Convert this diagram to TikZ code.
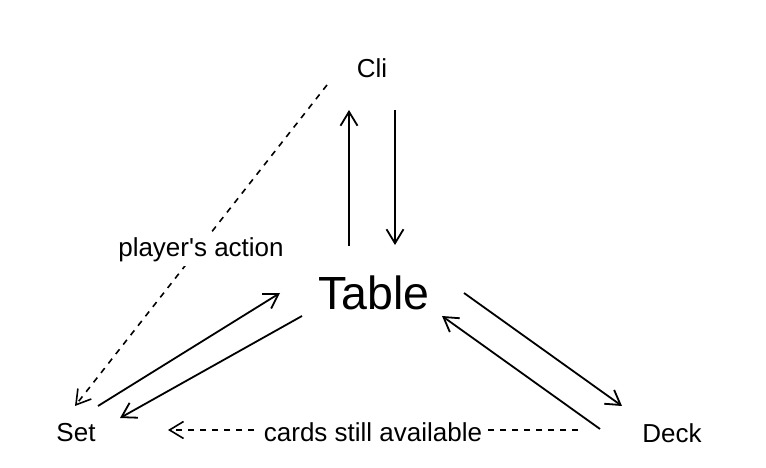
\documentclass[tikz,border=0pt]{standalone}
\usepackage{fontspec}
\setmainfont{Liberation Sans}
\usetikzlibrary{arrows.meta}

\begin{document}
\begin{tikzpicture}[
            x = 1pt, y = 1pt,
            > = {Straight Barb[length=14pt,width=17pt]}, % open arrow head
            line width = 1.8pt % line style
        ]

        \tikzstyle{part}=[
            font = \fontsize{26}{30}\selectfont,
            inner sep = 0pt
        ]
        \tikzstyle{hub}=[
            font = \fontsize{46.5}{54}\selectfont,
            inner sep = 0pt
        ]
        \tikzstyle{note}=[
            fill = white,
            inner sep = 4pt,
            font = \fontsize{26}{30}\selectfont
        ]
        \tikzstyle{hint}=[
            dash pattern = on 6pt off 6pt,
            line width = 1.6pt
        ]

        \useasboundingbox (0,0) rectangle (766,468);

        \node[part] (cli) at (372,400) {Cli};
        \node[hub] (table) at (374,175) {Table};
        \node[part] (set) at (76,35) {Set};
        \node[part] (deck) at (672,35) {Deck};

        % table <-> cli
        \draw[->] ([shift={(-25pt,47pt)}]table.center) -- ([shift={(-23pt,-42pt)}]cli.center);
        \draw[->] ([shift={(23pt,-42pt)}]cli.center) -- ([shift={(21pt,48pt)}]table.center);

        % set <-> table
        \draw[->] ([shift={(22pt,27pt)}]set.center) -- ([shift={(-94pt,0pt)}]table.center);
        \draw[->] ([shift={(-72pt,-23pt)}]table.center) -- ([shift={(44pt,15pt)}]set.center);

        % table <-> deck
        \draw[->] ([shift={(90pt,0pt)}]table.center) -- ([shift={(-50pt,27pt)}]deck.center);
        \draw[->] ([shift={(-72pt,4pt)}]deck.center) -- ([shift={(68pt,-23pt)}]table.center);

        % dashed hints
        \draw[->, hint] ([shift={(-45pt,-17pt)}]cli.center) -- node[note, yshift=-4pt] {player\textquotesingle s action} ([shift={(-1pt,27pt)}]set.center);
        \draw[->, hint] ([shift={(-94pt,3pt)}]deck.center) -- node[note, yshift=-2pt] {cards still available} ([shift={(92pt,3pt)}]set.center);
    \end{tikzpicture}
\end{document}
